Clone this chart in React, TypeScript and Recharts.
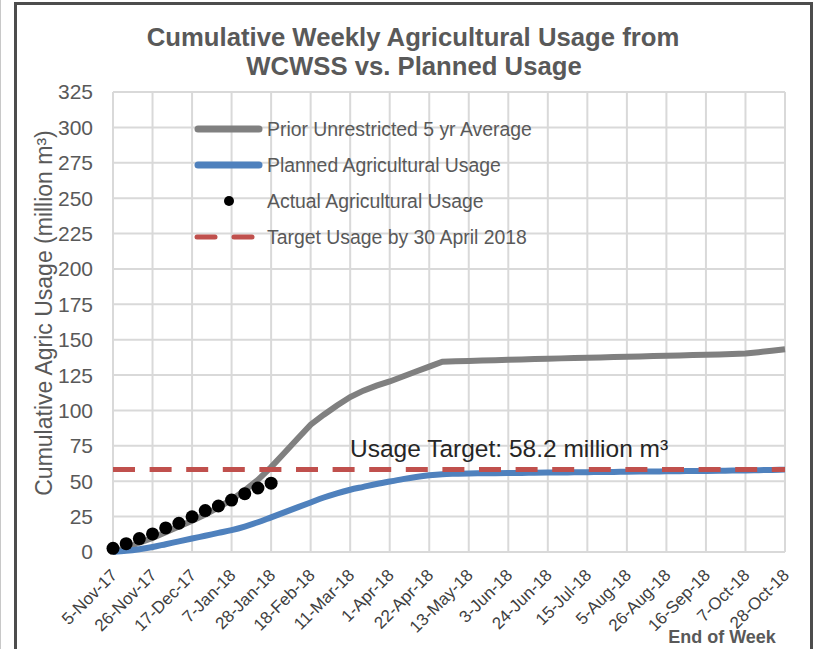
import React from 'react';
import { LineChart, Line, XAxis, YAxis, CartesianGrid, ReferenceLine } from 'recharts';

// weekly periods (end of week)
const WEEK_ENDING = [
  '5-Nov-17', '12-Nov-17', '19-Nov-17', '26-Nov-17', '3-Dec-17', '10-Dec-17', '17-Dec-17',
  '24-Dec-17', '31-Dec-17', '7-Jan-18', '14-Jan-18', '21-Jan-18', '28-Jan-18', '4-Feb-18',
  '11-Feb-18', '18-Feb-18', '25-Feb-18', '4-Mar-18', '11-Mar-18', '18-Mar-18', '25-Mar-18',
  '1-Apr-18', '8-Apr-18', '15-Apr-18', '22-Apr-18', '29-Apr-18', '6-May-18', '13-May-18',
  '20-May-18', '27-May-18', '3-Jun-18', '10-Jun-18', '17-Jun-18', '24-Jun-18', '1-Jul-18',
  '8-Jul-18', '15-Jul-18', '22-Jul-18', '29-Jul-18', '5-Aug-18', '12-Aug-18', '19-Aug-18',
  '26-Aug-18', '2-Sep-18', '9-Sep-18', '16-Sep-18', '23-Sep-18', '30-Sep-18', '7-Oct-18',
  '14-Oct-18', '21-Oct-18', '28-Oct-18',
];

const X_TICKS = [
  '5-Nov-17', '26-Nov-17', '17-Dec-17', '7-Jan-18', '28-Jan-18', '18-Feb-18', '11-Mar-18',
  '1-Apr-18', '22-Apr-18', '13-May-18', '3-Jun-18', '24-Jun-18', '15-Jul-18', '5-Aug-18',
  '26-Aug-18', '16-Sep-18', '7-Oct-18', '28-Oct-18',
];

const Y_TICKS = [0, 25, 50, 75, 100, 125, 150, 175, 200, 225, 250, 275, 300, 325];

// million m3, cumulative
const PRIOR_AVG = [
  0, 3, 6.5, 10, 14, 18, 22, 26.5, 31.5, 37, 43.5, 51, 60, 70, 80, 90, 97, 103.5, 109.5, 114,
  117.5, 120.5, 124, 127.5, 131, 134.5, 134.8, 135, 135.3, 135.5, 135.8, 136, 136.3, 136.5,
  136.8, 137, 137.3, 137.5, 137.7, 138, 138.2, 138.4, 138.6, 138.9, 139.1, 139.4, 139.6,
  139.9, 140.2, 141.2, 142.2, 143.2,
];

const PLANNED = [
  0, 0.8, 2, 3.5, 5.5, 7.5, 9.5, 11.5, 13.5, 15.5, 18, 21, 24.5, 28, 31.5, 35, 38.5, 41.5, 44,
  46, 48, 49.8, 51.5, 53, 54.2, 55, 55.3, 55.5, 55.6, 55.7, 55.8, 55.9, 56, 56.1, 56.2, 56.3,
  56.4, 56.5, 56.6, 56.7, 56.8, 56.9, 57, 57.1, 57.2, 57.3, 57.4, 57.5, 57.6, 57.8, 58, 58.2,
];

const ACTUAL = [2.6, 5.9, 9.5, 12.8, 17, 20.3, 24.9, 29.3, 32.5, 36.7, 41.2, 45.2, 48.6];

const TARGET = 58.2;

const LEGEND_ITEMS = [
  { label: 'Prior Unrestricted 5 yr Average', kind: 'line', color: '#808080' },
  { label: 'Planned Agricultural Usage', kind: 'line', color: '#4F81BD' },
  { label: 'Actual Agricultural Usage', kind: 'dot', color: '#000000' },
  { label: 'Target Usage by 30 April 2018', kind: 'dash', color: '#C0504D' },
];

const data = WEEK_ENDING.map((week, i) => ({
  week,
  prior: PRIOR_AVG[i],
  planned: PLANNED[i],
  actual: ACTUAL[i],
}));

const FONT = '"Liberation Sans", Arial, sans-serif';
const TEXT = '#595959';

function XTick({ x, y, payload }: any) {
  return (
    <g transform={`translate(${x + 1},${y + 12})`}>
      <text
        textAnchor="end"
        transform="rotate(-45)"
        fontSize={17}
        fontFamily={FONT}
        fill="#404040"
        dy="0.35em"
      >
        {payload.value}
      </text>
    </g>
  );
}

function TargetLabel(props: any) {
  const { viewBox } = props;
  return (
    <text
      x={viewBox.x + 237}
      y={viewBox.y - 13}
      fontSize={24.5}
      fontFamily={FONT}
      fill="#262626"
    >
      Usage Target: 58.2 million m³
    </text>
  );
}

function Legend() {
  return (
    <g fontFamily={FONT} fontSize={19.4} fill={TEXT}>
      {LEGEND_ITEMS.map((item, i) => {
        const y = 129 + i * 36;
        return (
          <g key={item.label}>
            {item.kind === 'line' && (
              <line x1={198} x2={259} y1={y} y2={y} stroke={item.color} strokeWidth={7} strokeLinecap="round" />
            )}
            {item.kind === 'dot' && <circle cx={229} cy={y} r={5} fill={item.color} />}
            {item.kind === 'dash' && (
              <g>
                <line x1={197} x2={215} y1={y} y2={y} stroke={item.color} strokeWidth={5} strokeLinecap="round" />
                <line x1={234} x2={252} y1={y} y2={y} stroke={item.color} strokeWidth={5} strokeLinecap="round" />
              </g>
            )}
            <text x={267} y={y} dy="0.35em">
              {item.label}
            </text>
          </g>
        );
      })}
    </g>
  );
}

export default function App() {
  return (
    <div style={{ position: 'absolute', left: 0, top: 0, width: 814, height: 649, overflow: 'hidden', background: '#fff' }}>
      <div style={{ position: 'absolute', left: 0, top: 0, width: 1, height: 649, background: '#c8c8c8' }} />
      <div
        style={{
          position: 'absolute',
          left: 14,
          top: 2,
          width: 799,
          height: 700,
          boxSizing: 'border-box',
          border: '3px solid #4d4d4d',
        }}
      />
      <div style={{ position: 'absolute', left: 0, top: 0 }}>
        <LineChart width={814} height={649} data={data} margin={{ top: 92, right: 29, bottom: 0, left: 0 }}>
          <CartesianGrid stroke="#d9d9d9" strokeWidth={2} />
          <XAxis
            dataKey="week"
            type="category"
            ticks={X_TICKS}
            interval={0}
            tick={<XTick />}
            tickLine={false}
            axisLine={false}
            height={97}
          />
          <YAxis
            type="number"
            domain={[0, 325]}
            ticks={Y_TICKS}
            interval={0}
            width={113}
            tickLine={false}
            axisLine={false}
            tickMargin={14}
            tick={{ fontSize: 21, fill: TEXT, fontFamily: FONT }}
          />
          <Line
            type="linear"
            dataKey="prior"
            stroke="#808080"
            strokeWidth={6}
            dot={false}
            isAnimationActive={false}
          />
          <Line
            type="monotone"
            dataKey="planned"
            stroke="#4F81BD"
            strokeWidth={6}
            dot={false}
            isAnimationActive={false}
          />
          <ReferenceLine
            y={TARGET}
            stroke="#C0504D"
            strokeWidth={5}
            strokeDasharray="22 14.6"
            label={<TargetLabel />}
          />
          <Line
            dataKey="actual"
            stroke="none"
            dot={{ r: 6.5, fill: '#000', stroke: 'none' }}
            activeDot={false}
            isAnimationActive={false}
          />
        </LineChart>
      </div>
      <svg width={814} height={649} style={{ position: 'absolute', left: 0, top: 0, pointerEvents: 'none' }}>
        <g fontFamily={FONT} fontWeight="bold" fontSize={25.7} fill={TEXT} textAnchor="middle">
          <text x={413} y={46}>Cumulative Weekly Agricultural Usage from</text>
          <text x={414} y={75}>WCWSS vs. Planned Usage</text>
        </g>
        <text
          x={44}
          y={313}
          transform="rotate(-90 44 313)"
          textAnchor="middle"
          dy="0.35em"
          fontFamily={FONT}
          fontSize={23}
          fill={TEXT}
        >
          Cumulative Agric Usage (million m³)
        </text>
        <Legend />
        <text x={722} y={643} textAnchor="middle" fontFamily={FONT} fontWeight="bold" fontSize={18} fill={TEXT}>
          End of Week
        </text>
      </svg>
    </div>
  );
}
